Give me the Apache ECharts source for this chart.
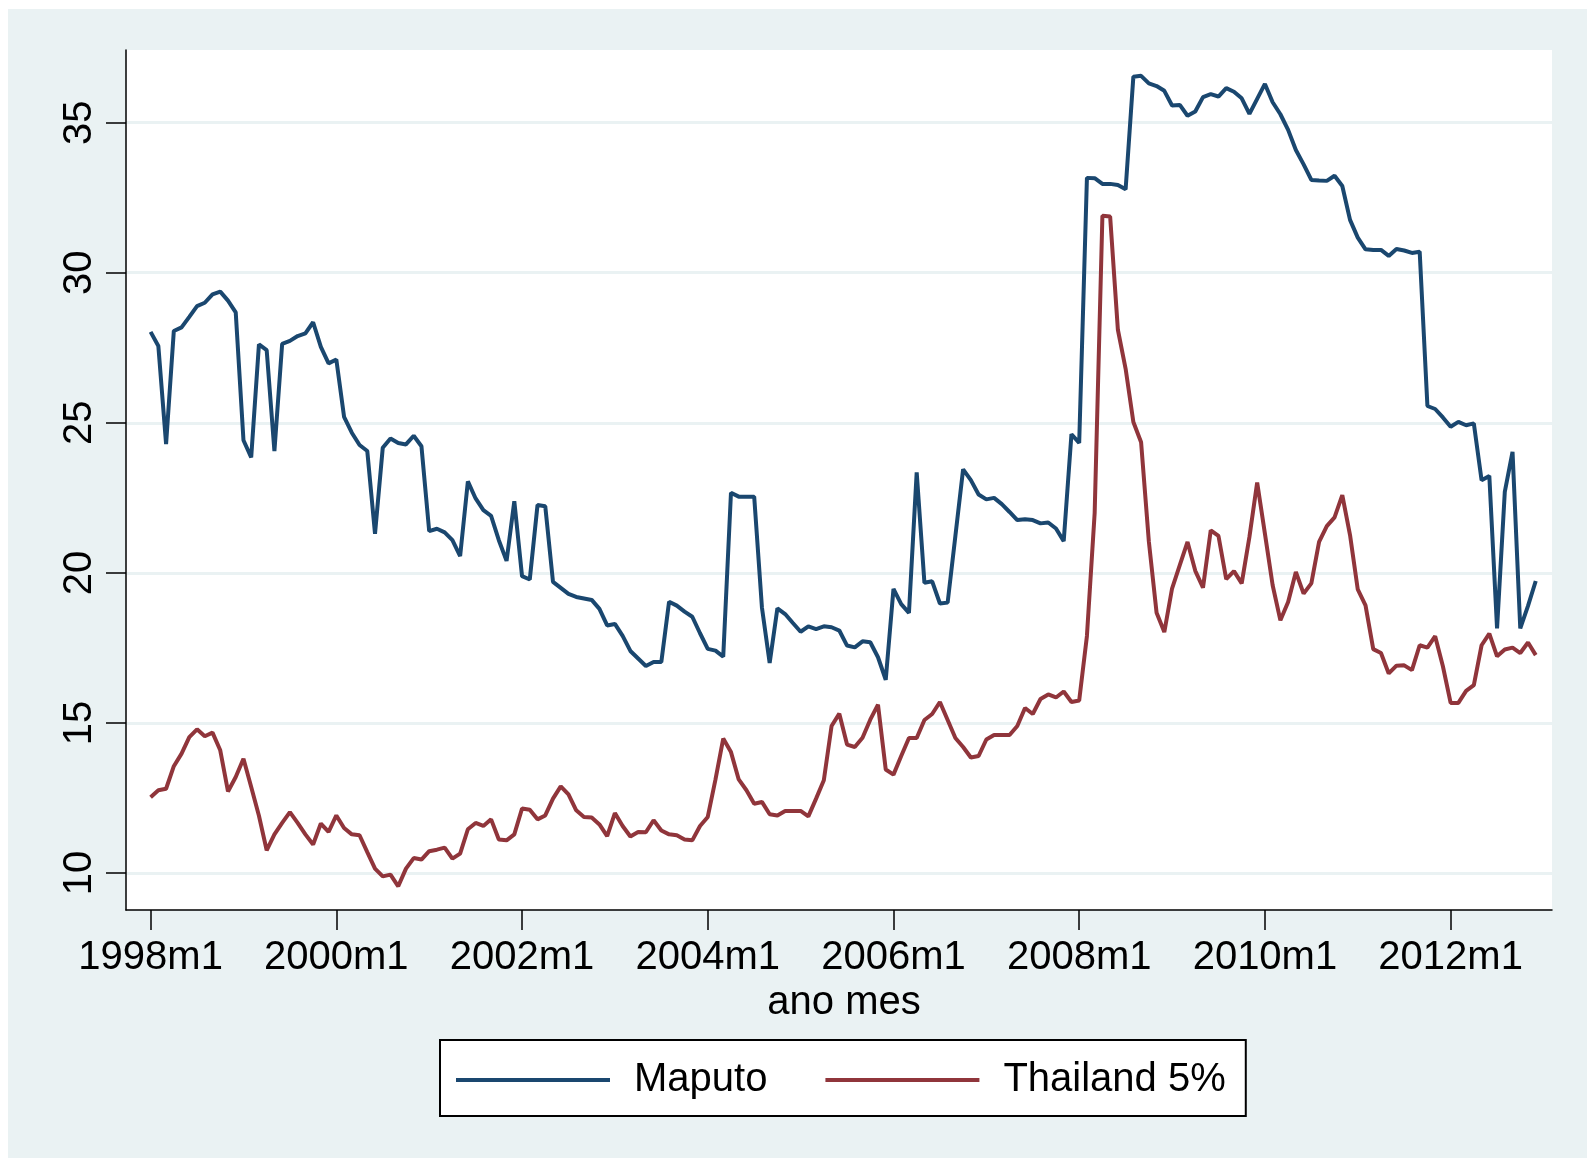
<!DOCTYPE html>
<html>
<head>
<meta charset="utf-8">
<script src="https://cdn.jsdelivr.net/npm/echarts@6/dist/echarts.min.js"></script>
<style>
  html, body { margin: 0; padding: 0; background: #fff; }
  #chart { width: 1595px; height: 1166px; }
</style>
</head>
<body>
<div id="chart"></div>
<script>
// monthly prices, 1998m1 .. 2012m12
var maputo = [
  28.03, 27.56, 24.29, 28.06, 28.18, 28.53, 28.89, 29.00, 29.28, 29.37, 29.07, 28.68,
  24.42, 23.85, 27.61, 27.42, 24.06, 27.63, 27.73, 27.89, 27.98, 28.35, 27.53, 26.98,
  27.11, 25.20, 24.67, 24.26, 24.06, 21.30, 24.17, 24.48, 24.33, 24.28, 24.57, 24.22,
  21.39, 21.47, 21.35, 21.09, 20.56, 23.05, 22.48, 22.09, 21.90, 21.09, 20.40, 22.39,
  19.89, 19.78, 22.26, 22.22, 19.70, 19.50, 19.30, 19.20, 19.15, 19.10, 18.80, 18.25,
  18.30, 17.90, 17.40, 17.15, 16.90, 17.03, 17.03, 19.04, 18.91, 18.71, 18.54, 17.99,
  17.47, 17.41, 17.21, 22.67, 22.54, 22.54, 22.54, 18.85, 17.00, 18.82, 18.63, 18.33,
  18.04, 18.22, 18.13, 18.22, 18.19, 18.08, 17.58, 17.52, 17.72, 17.69, 17.19, 16.44,
  19.47, 18.96, 18.67, 23.35, 19.67, 19.72, 18.98, 19.01, 21.23, 23.45, 23.09, 22.61,
  22.45, 22.50, 22.29, 22.03, 21.76, 21.79, 21.76, 21.65, 21.68, 21.48, 21.06, 24.62,
  24.33, 33.16, 33.15, 32.96, 32.96, 32.92, 32.78, 36.53, 36.56, 36.31, 36.22, 36.06,
  35.57, 35.59, 35.23, 35.37, 35.85, 35.95, 35.87, 36.15, 36.03, 35.81, 35.29, 35.79,
  36.29, 35.68, 35.28, 34.76, 34.09, 33.61, 33.09, 33.07, 33.06, 33.23, 32.89, 31.76,
  31.17, 30.78, 30.76, 30.76, 30.56, 30.79, 30.74, 30.66, 30.70, 25.56, 25.46, 25.18,
  24.87, 25.03, 24.92, 24.98, 23.09, 23.23, 18.15, 22.70, 24.03, 18.15, 18.90, 19.73
];
var thailand = [
  12.53, 12.76, 12.81, 13.56, 13.98, 14.53, 14.79, 14.56, 14.68, 14.09, 12.72, 13.20,
  13.81, 12.87, 11.91, 10.76, 11.29, 11.67, 12.03, 11.67, 11.29, 10.95, 11.65, 11.37,
  11.92, 11.50, 11.29, 11.26, 10.70, 10.15, 9.89, 9.95, 9.56, 10.15, 10.50, 10.45,
  10.73, 10.78, 10.85, 10.48, 10.65, 11.46, 11.67, 11.57, 11.79, 11.12, 11.09, 11.29,
  12.15, 12.11, 11.79, 11.92, 12.48, 12.89, 12.62, 12.09, 11.87, 11.85, 11.62, 11.23,
  12.00, 11.57, 11.22, 11.37, 11.36, 11.76, 11.42, 11.29, 11.26, 11.12, 11.09, 11.57,
  11.87, 13.12, 14.48, 14.03, 13.12, 12.76, 12.31, 12.37, 11.96, 11.92, 12.07, 12.07,
  12.07, 11.89, 12.48, 13.09, 14.90, 15.31, 14.28, 14.20, 14.51, 15.11, 15.61, 13.45,
  13.28, 13.90, 14.50, 14.50, 15.10, 15.30, 15.70, 15.10, 14.50, 14.20, 13.85, 13.90,
  14.45, 14.60, 14.60, 14.60, 14.90, 15.50, 15.30, 15.80, 15.95, 15.85, 16.05, 15.70,
  15.75, 17.90, 22.00, 31.90, 31.87, 28.10, 26.80, 25.03, 24.35, 21.05, 18.67, 18.03,
  19.48, 20.26, 21.03, 20.07, 19.51, 21.42, 21.23, 19.79, 20.06, 19.65, 21.20, 23.01,
  21.31, 19.59, 18.42, 19.03, 20.03, 19.31, 19.65, 21.03, 21.56, 21.85, 22.59, 21.26,
  19.45, 18.92, 17.46, 17.33, 16.65, 16.91, 16.92, 16.76, 17.59, 17.51, 17.89, 16.89,
  15.67, 15.67, 16.07, 16.26, 17.59, 17.98, 17.22, 17.45, 17.51, 17.33, 17.68, 17.26
];
var xTickLabels = ['1998m1', '2000m1', '2002m1', '2004m1', '2006m1', '2008m1', '2010m1', '2012m1'];
var xTicks = [0, 24, 48, 72, 96, 120, 144, 168];
var yTicks = [10, 15, 20, 25, 30, 35];

var FONT = '"Liberation Sans", Arial, sans-serif';

function toPairs (arr) {
  var out = [];
  for (var i = 0; i < arr.length; i++) {
    out.push([i, arr[i]]);
  }
  return out;
}

var chart = echarts.init(document.getElementById('chart'));
var option = {
  animation: false,
  backgroundColor: '#ffffff',
  textStyle: { fontFamily: FONT },
  graphic: [{
    type: 'rect',
    z: -10,
    silent: true,
    shape: { x: 8, y: 9, width: 1579, height: 1149 },
    style: { fill: '#eaf2f3' }
  }],
  grid: {
    left: 126,
    top: 50,
    right: 43,
    bottom: 256,
    show: true,
    backgroundColor: '#ffffff',
    borderWidth: 0
  },
  xAxis: {
    type: 'value',
    min: -3.18,
    max: 181.1,
    name: 'ano mes',
    nameLocation: 'middle',
    nameGap: 64,
    nameTextStyle: { fontSize: 40, color: '#000', fontFamily: FONT, padding: [0, 0, 0, 10] },
    axisLine: { show: true, onZero: false, lineStyle: { color: '#000', width: 1.5 } },
    axisTick: { show: true, length: 20, customValues: xTicks, lineStyle: { color: '#000', width: 1.5 } },
    axisLabel: {
      customValues: xTicks,
      fontSize: 40,
      color: '#000',
      margin: 28,
      fontFamily: FONT,
      formatter: function (v) {
        return xTickLabels[Math.round(v / 24)];
      }
    },
    splitLine: { show: false }
  },
  yAxis: {
    type: 'value',
    min: 8.77,
    max: 37.42,
    axisLine: { show: true, onZero: false, lineStyle: { color: '#000', width: 1.5 } },
    axisTick: { show: true, length: 20, customValues: yTicks, lineStyle: { color: '#000', width: 1.5 } },
    axisLabel: {
      customValues: yTicks,
      rotate: 90,
      fontSize: 40,
      color: '#000',
      margin: 26,
      fontFamily: FONT
    },
    splitLine: { show: true, lineStyle: { color: '#eaf2f3', width: 3 } }
  },
  legend: {
    data: ['Maputo', 'Thailand 5%'],
    left: 440,
    top: 1040,
    orient: 'horizontal',
    icon: 'rect',
    itemWidth: 154,
    itemHeight: 4,
    itemGap: 58,
    padding: [20, 20, 16, 16],
    backgroundColor: '#ffffff',
    borderColor: '#000',
    borderWidth: 2,
    borderRadius: 0,
    textStyle: { fontSize: 40, color: '#000', fontFamily: FONT, padding: [0, 0, 0, 19] }
  },
  series: [{
    name: 'Maputo',
    type: 'line',
    data: toPairs(maputo),
    showSymbol: false,
    color: '#1a476f',
    lineStyle: { width: 4, color: '#1a476f' }
  }, {
    name: 'Thailand 5%',
    type: 'line',
    data: toPairs(thailand),
    showSymbol: false,
    color: '#90353b',
    lineStyle: { width: 4, color: '#90353b' }
  }]
};
chart.setOption(option);
</script>
</body>
</html>
